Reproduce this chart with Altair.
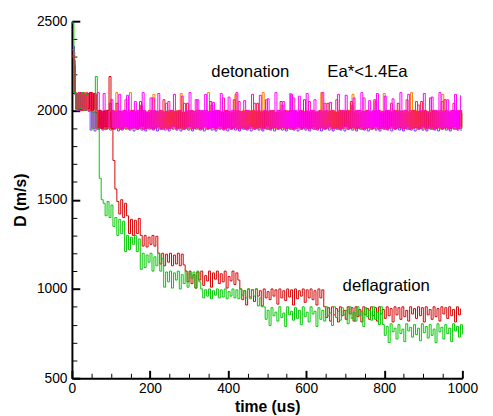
import altair as alt
import pandas as pd

FONT = "Liberation Sans"

# ---------------- data ----------------
# detonation runs: sampled every 5 us, each run starts at its own small offset
det_names = ["olive", "purple", "orange", "crimson", "pink", "magenta"]
det_colors = ["#8a7a1c", "#8a2cff", "#ff7a00", "#ee1133", "#ff1a8c", "#ff00ff"]
det_offsets = [4.0, 1.6, 2.4, 3.2, 0.8, 0.0]

olive = [2250, 2090, 2000, 2095, 2005, 2100, 2000, 2090, 2005, 1995,
         1900, 1990, 1895, 1985, 1900, 1995, 1895, 1990, 1900, 1985,
         1895, 1990, 1900, 1995, 1895, 1985, 1900, 1990, 1895, 1995,
         1900, 1985, 1895, 1990, 1900, 1995, 1895, 1985, 1900, 1990,
         1895, 1995, 1900, 1985, 1895, 1990, 1900, 1995, 1895, 1985,
         1900, 1990, 1895, 1995, 1900, 1985, 1895, 1990, 1900, 1995,
         1895, 1985, 1900, 1990, 1895, 1995, 1900, 1985, 1895, 1990,
         1900, 1995, 1895, 1985, 1900, 1990, 1895, 1995, 1900, 1985,
         1895, 1990, 1900, 1995, 1895, 1985, 1900, 1990, 1895, 1995,
         1900, 1985, 1895, 1990, 1900, 1995, 1895, 1985, 1900, 1990,
         1895, 1995, 1900, 1985, 1895, 1990, 1900, 1995, 1895, 1985,
         1900, 1990, 1895, 1995, 1900, 1985, 1895, 1990, 1900, 1995,
         1895, 1985, 1900, 1990, 1895, 1995, 1900, 1985, 1895, 1990,
         1900, 1995, 1895, 1985, 1900, 1990, 1895, 1995, 1900, 1985,
         1895, 1990, 1900, 1995, 1895, 1985, 1900, 1990, 1895, 1995,
         1900, 1985, 1895, 1990, 1900, 1995, 1895, 1985, 1900, 1990,
         1895, 1995, 1900, 1985, 1895, 1990, 1900, 1995, 1895, 1985,
         1900, 1990, 1895, 1995, 1900, 1985, 1895, 1990, 1900, 1995,
         1895, 1985, 1900, 1990, 1895, 1995, 1900, 1985, 1895, 1990,
         1900, 1995, 1895, 1985, 1900, 1990, 1895, 1995, 1900, 1985]
purple = [2360, 2090, 2000, 2100, 2005, 2095, 2000, 2090, 1995, 1890,
          1990, 1885, 1985, 1895, 1990, 1890, 1980, 1895, 1995, 1890,
          1985, 1895, 1990, 1885, 1995, 1890, 1980, 1895, 1990, 1890,
          1995, 1885, 1985, 1895, 1990, 1890, 1995, 1885, 1980, 1895,
          1990, 1890, 1995, 1885, 1985, 1895, 1990, 1890, 1995, 1885,
          1980, 1895, 1990, 1890, 1995, 1885, 1985, 1895, 1990, 1890,
          1995, 1885, 1980, 1895, 1990, 1890, 1995, 1885, 1985, 1895,
          1990, 1890, 1995, 1885, 1980, 1895, 1990, 1890, 1995, 1885,
          1985, 1895, 1990, 1890, 1995, 1885, 1980, 1895, 1990, 1890,
          1995, 1885, 1985, 1895, 1990, 1890, 1995, 1885, 1980, 1895,
          1990, 1890, 1995, 1885, 1985, 1895, 1990, 1890, 1995, 1885,
          1980, 1895, 1990, 1890, 1995, 1885, 1985, 1895, 1990, 1890,
          1995, 1885, 1980, 1895, 1990, 1890, 1995, 1885, 1985, 1895,
          1990, 1890, 1995, 1885, 1980, 1895, 1990, 1890, 1995, 1885,
          1985, 1895, 1990, 1890, 1995, 1885, 1980, 1895, 1990, 1890,
          1995, 1885, 1985, 1895, 1990, 1890, 1995, 1885, 1980, 1895,
          1990, 1890, 1995, 1885, 1985, 1895, 1990, 1890, 1995, 1885,
          1980, 1895, 1990, 1890, 1995, 1885, 1985, 1895, 1990, 1890,
          1995, 1885, 1980, 1895, 1990, 1890, 1995, 1885, 1985, 1895,
          1990, 1890, 1995, 1885, 1980, 1895, 1990, 1890, 1995, 1885]
orange = [2330, 2100, 2010, 2090, 2000, 2100, 2005, 2095, 2000, 2100,
          2010, 2095, 1995, 1905, 1990, 1900, 2000, 1910, 1995, 1900,
          2000, 1905, 2100, 1900, 1990, 1910, 2000, 1900, 1995, 2100,
          1905, 2000, 1900, 1990, 1910, 2000, 1900, 1995, 1905, 2000,
          1900, 2090, 1910, 1995, 1900, 2000, 1905, 1990, 1900, 2000,
          1910, 1995, 1900, 2000, 1905, 2095, 1900, 1990, 1910, 2000,
          1900, 1995, 1905, 2000, 1900, 1990, 1910, 2000, 1900, 2100,
          1905, 1995, 1900, 2000, 1910, 1990, 1900, 2000, 1905, 1995,
          1900, 2000, 1910, 2090, 1900, 1995, 1905, 2000, 1900, 1990,
          1910, 2000, 1900, 1995, 1905, 2000, 1900, 2100, 1910, 1995,
          1900, 2000, 1905, 1990, 1900, 2000, 1910, 1995, 1900, 2000,
          1905, 2095, 1900, 1990, 1910, 2000, 1900, 1995, 1905, 2000,
          1900, 1990, 1910, 2000, 1900, 1995, 1905, 2100, 1900, 2000,
          1910, 1995, 1900, 2000, 1905, 1990, 1900, 2000, 1910, 1995,
          1900, 2000, 1905, 2090, 1900, 1995, 1910, 2000, 1900, 1990,
          1905, 2000, 1900, 1995, 1910, 2000, 1900, 1990, 1905, 2095,
          1900, 2000, 1910, 1995, 1900, 2000, 1905, 1990, 1900, 2000,
          1910, 1995, 1900, 2100, 1905, 2000, 1900, 1995, 1910, 2000,
          1900, 1990, 1905, 2000, 1900, 1995, 1910, 2000, 1900, 2090,
          1905, 2000, 1900, 1995, 1910, 2000, 1900, 1990, 1905, 2000]
crimson = [2280, 2095, 2005, 2100, 2000, 2090, 2010, 2095, 2000, 2100,
           2005, 2090, 2000, 1900, 1995, 1905, 2000, 1900, 1990, 1910,
           2000, 1900, 2040, 1905, 1995, 1900, 2000, 1910, 1990, 1900,
           2000, 1905, 1995, 1900, 2050, 1910, 2000, 1900, 1990, 1905,
           2000, 1900, 1995, 1910, 2000, 1900, 2060, 1905, 1990, 1900,
           2000, 1910, 1995, 1900, 2000, 1905, 1990, 1900, 2040, 1910,
           2000, 1900, 1995, 1905, 2000, 1900, 1990, 1910, 2000, 1900,
           2050, 1905, 1995, 1900, 2000, 1910, 1990, 1900, 2000, 1905,
           1995, 1900, 2060, 1910, 2000, 1900, 1990, 1905, 2000, 1900,
           1995, 1910, 2000, 1900, 2040, 1905, 1990, 1900, 2000, 1910,
           1995, 1900, 2000, 1905, 1990, 1900, 2050, 1910, 2000, 1900,
           1995, 1905, 2000, 1900, 1990, 1910, 2000, 1900, 2060, 1905,
           1995, 1900, 2000, 1910, 1990, 1900, 2000, 1905, 1995, 1900,
           2040, 1910, 2000, 1900, 1990, 1905, 2000, 1900, 1995, 1910,
           2000, 1900, 2050, 1905, 1990, 1900, 2000, 1910, 1995, 1900,
           2000, 1905, 1990, 1900, 2060, 1910, 2000, 1900, 1995, 1905,
           2000, 1900, 1990, 1910, 2000, 1900, 2040, 1905, 1995, 1900,
           2000, 1910, 1990, 1900, 2000, 1905, 1995, 1900, 2050, 1910,
           2000, 1900, 1990, 1905, 2000, 1900, 1995, 1910, 2000, 1900,
           2060, 1905, 1990, 1900, 2000, 1910, 1995, 1900, 2000, 1905]
pink = [2300, 2095, 2005, 2100, 2000, 2085, 2010, 2100, 2000, 2090,
        2005, 1995, 1900, 2000, 1910, 1990, 1895, 2000, 1905, 2040,
        1900, 1995, 1910, 2000, 1895, 1990, 1905, 2060, 1900, 2000,
        1910, 1995, 1900, 2000, 1905, 2030, 1895, 1990, 1910, 2000,
        1900, 2070, 1905, 1995, 1910, 2000, 1895, 1990, 1900, 2050,
        1905, 2000, 1910, 1995, 1900, 2000, 1895, 2040, 1905, 1990,
        1910, 2000, 1900, 2060, 1905, 1995, 1895, 2000, 1910, 1990,
        1900, 2030, 1905, 2000, 1910, 1995, 1900, 2070, 1895, 2000,
        1905, 1990, 1910, 2000, 1900, 2050, 1905, 1995, 1895, 2000,
        1910, 1990, 1900, 2040, 1905, 2000, 1910, 1995, 1900, 2060,
        1895, 2000, 1905, 1990, 1910, 2000, 1900, 2030, 1905, 1995,
        1910, 2000, 1895, 2070, 1900, 1990, 1905, 2000, 1910, 1995,
        1900, 2050, 1905, 2000, 1895, 1990, 1910, 2000, 1900, 2040,
        1905, 1995, 1910, 2000, 1900, 2060, 1895, 1990, 1905, 2000,
        1910, 1995, 1900, 2030, 1905, 2000, 1910, 1990, 1895, 2070,
        1900, 2000, 1905, 1995, 1910, 2050, 1900, 2000, 1905, 1990,
        1895, 2000, 1910, 2040, 1900, 1995, 1905, 2000, 1910, 1990,
        1900, 2060, 1895, 2000, 1905, 1995, 1910, 2030, 1900, 2000,
        1905, 1990, 1910, 2070, 1895, 2000, 1900, 1995, 1905, 2050,
        1910, 2000, 1900, 1990, 1905, 2040, 1895, 2000, 1910, 1995]
magenta = [2340, 2100, 2010, 2095, 2005, 2100, 2000, 2090, 2010, 2100,
           2000, 2095, 2005, 2100, 2000, 1900, 2095, 1905, 2000, 1910,
           2060, 1900, 1995, 1905, 2090, 1900, 2000, 1910, 2085, 1900,
           1995, 1905, 2050, 1900, 2000, 1910, 2100, 1900, 1990, 1905,
           2070, 1900, 2000, 1910, 2095, 1900, 1995, 1905, 2040, 1900,
           2000, 1910, 2090, 1900, 1995, 1905, 2080, 1900, 2000, 1910,
           2100, 1900, 1995, 1905, 2060, 1900, 2000, 1910, 2090, 1900,
           1995, 1905, 2045, 1900, 2000, 1910, 2095, 1900, 1990, 1905,
           2075, 1900, 2000, 1910, 2100, 1900, 1995, 1905, 2055, 1900,
           2000, 1910, 2090, 1900, 1995, 1905, 2085, 1900, 2000, 1910,
           2065, 1900, 1995, 1905, 2100, 1900, 2000, 1910, 2050, 1900,
           1995, 1905, 2090, 1900, 2000, 1910, 2080, 1900, 1990, 1905,
           2095, 1900, 2000, 1910, 2060, 1900, 1995, 1905, 2100, 1900,
           2000, 1910, 2045, 1900, 1995, 1905, 2090, 1900, 2000, 1910,
           2085, 1900, 1995, 1905, 2070, 1900, 2000, 1910, 2100, 1900,
           1995, 1905, 2055, 1900, 2000, 1910, 2095, 1900, 1990, 1905,
           2080, 1900, 2000, 1910, 2065, 1900, 1995, 1905, 2100, 1900,
           2000, 1910, 2090, 1900, 1995, 1905, 2050, 1900, 2000, 1910,
           2095, 1900, 1995, 1905, 2075, 1900, 2000, 1910, 2100, 1900,
           1995, 1905, 2060, 1900, 2000, 1910, 2090, 1900, 1995, 2085]
det_values = [olive, purple, orange, crimson, pink, magenta]

# deflagration runs: sampled every 5 us from t = 0
defl_names = ["red", "green"]
defl_colors = ["#d40000", "#00c800"]
red = [2310, 2100, 2010, 2095, 2005, 2100, 2000, 2090, 2010, 2100,
       2000, 2095, 1990, 1905, 2000, 1900, 1995, 1910, 2000, 2190,
       1900, 1720, 1560, 1490, 1420, 1500, 1400, 1480, 1410, 1310,
       1390, 1300, 1385, 1310, 1395, 1300, 1240, 1300, 1235, 1290,
       1250, 1300, 1240, 1295, 1200, 1140, 1200, 1130, 1195, 1150,
       1200, 1130, 1190, 1140, 1200, 1130, 1195, 1135, 1100,
       1040, 1100, 1030, 1080, 1005, 1095, 1050, 1100, 1020, 1075,
       1045, 1100, 1010, 1090, 1055, 1100, 1030, 1085, 1040, 1100,
       1005, 1070, 1045, 1100, 1025, 1090, 1050,
       1000, 940, 990, 910, 1000, 955, 995, 930, 1000, 960,
       990, 905, 1000, 950, 985, 940, 1000, 960, 995, 915,
       1000, 950, 990, 935, 1000, 955, 995, 910, 1000, 945,
       990, 960, 1000, 925, 995, 950, 1000, 940, 990, 910,
       1000, 950, 995,
       900, 840, 895, 820, 900, 855, 890, 815, 900, 850,
       880, 830, 900, 860, 895, 820, 900, 845, 885, 815,
       900, 855, 890, 830, 900, 850, 895, 820, 900, 860,
       885, 835, 900, 850, 890, 815, 900, 855, 895, 830,
       900, 845, 880, 820, 900, 860, 890, 835, 900, 850,
       895, 815, 900, 855, 885, 830, 900, 845, 890, 820,
       900, 860, 895, 835, 900, 850, 885, 815, 900, 855,
       890]
green = [2490, 2100, 2005, 2095, 2010, 2100, 2000, 2090, 2005, 1995,
         1900, 1990, 2190, 1900, 1620, 1500, 1480, 1410, 1490, 1400,
         1470, 1350, 1400, 1300, 1390, 1310, 1380, 1210, 1300, 1220,
         1290, 1250, 1300, 1210, 1280, 1110, 1200, 1120, 1190, 1150,
         1200, 1100, 1180, 1130, 1200, 1100, 1170,
         1010, 1095, 1040, 1100, 1005, 1090, 1050, 1100, 1000, 1080,
         1030, 1100, 1010, 1090, 1060, 1095, 1005, 1100, 1040,
         1000, 950, 995, 960, 1000, 945, 990, 965, 1000, 950,
         995, 955, 1000, 945, 985, 960, 1000, 950, 995, 945,
         1000, 965, 990, 950, 1000, 945, 995, 960, 1000,
         905, 950, 900,
         900, 830, 880, 795, 895, 850, 870, 820, 900, 840,
         865, 790, 900, 855, 875, 825, 895, 835, 880, 800,
         900, 845, 870, 815, 900, 860, 875, 790, 895, 830,
         880, 820, 900, 850, 865, 795, 900, 840, 875, 825,
         895, 855, 880, 805, 900, 835, 870, 820, 900, 850,
         875, 790, 895, 845, 880, 825, 900, 830, 870, 800,
         900,
         800, 740, 790, 700, 805, 760, 780, 720, 800, 750,
         775, 705, 805, 765, 785, 730, 800, 745, 780, 710,
         805, 755, 790, 725, 800, 740, 775, 700, 805, 760,
         785, 720, 800, 750, 780, 705, 805, 765, 790, 730,
         800, 745]
defl_values = [red, green]

assert all(len(v) == 200 for v in det_values), [len(v) for v in det_values]
assert len(red) == 200, len(red)
assert len(green) == 201, len(green)

# annotations
note_text = ["detonation", "Ea*<1.4Ea", "deflagration"]
note_t = [457, 757, 805]
note_D = [2215, 2215, 1014]

# axis tick values (every minor tick; labels only on the major ones)
x_ticks = list(range(0, 1001, 50))
y_ticks = list(range(500, 2501, 100))
X_STEP, Y_STEP = 200, 500

# ---------------- build tables ----------------
rows = []
for name, off, vals in zip(det_names, det_offsets, det_values):
    for i, v in enumerate(vals):
        rows.append({"series": name, "t": off + 5 * i, "D": v})
for name, vals in zip(defl_names, defl_values):
    for i, v in enumerate(vals):
        rows.append({"series": name, "t": 5 * i, "D": v})
df = pd.DataFrame(rows)

notes = pd.DataFrame({"label": note_text, "t": note_t, "D": note_D})

names = det_names + defl_names
colors = det_colors + defl_colors

W, H = 397, 363
X0, X1, Y0, Y1 = 0, 1000, 500, 2500


def major(step):
    return f"datum.value % {step} === 0"


x_axis = alt.Axis(
    orient="bottom", values=x_ticks, grid=False, format="d",
    labelExpr=f"{major(X_STEP)} ? datum.label : ''", labelOverlap=False,
    ticks=True, tickColor="black",
    tickSize={"condition": {"test": major(X_STEP), "value": -8}, "value": -5},
    tickWidth={"condition": {"test": major(X_STEP), "value": 2}, "value": 1},
    domainColor="black", domainWidth=2,
    labelFont=FONT, labelFontSize=14, labelColor="black", labelFlush=False,
    labelPadding=12, title="time (us)", titleFont=FONT, titleFontSize=16,
    titleFontWeight="bold", titleColor="black", titlePadding=0)
y_axis = alt.Axis(
    orient="left", values=y_ticks, grid=False, format="d",
    labelExpr=f"{major(Y_STEP)} ? datum.label : ''", labelOverlap=False,
    ticks=True, tickColor="black",
    tickSize={"condition": {"test": major(Y_STEP), "value": -8}, "value": -5},
    tickWidth={"condition": {"test": major(Y_STEP), "value": 2}, "value": 1},
    domainColor="black", domainWidth=2,
    labelFont=FONT, labelFontSize=14, labelColor="black", labelFlush=False,
    labelPadding=13, title="D (m/s)", titleFont=FONT, titleFontSize=16,
    titleFontWeight="bold", titleColor="black", titlePadding=8)


def xenc():
    return alt.X("t:Q", scale=alt.Scale(domain=[X0, X1], nice=False), axis=x_axis)


def yenc():
    return alt.Y("D:Q", scale=alt.Scale(domain=[Y0, Y1], nice=False, zero=False), axis=y_axis)


lines = alt.Chart(df).mark_line(strokeWidth=1, interpolate="step-after").encode(
    x=xenc(), y=yenc(),
    color=alt.Color("series:N", scale=alt.Scale(domain=names, range=colors), legend=None),
)

text = alt.Chart(notes).mark_text(font=FONT, fontSize=17, color="black").encode(
    x=xenc(), y=yenc(), text="label:N",
)

chart = alt.layer(lines, text).properties(
    width=W, height=H,
    padding={"left": 65, "top": 10, "right": 23, "bottom": 35},
    autosize=alt.AutoSizeParams(type="none"),
).configure_view(stroke=None)

chart.save("out.html", embed_options={"renderer": "svg", "actions": False})
